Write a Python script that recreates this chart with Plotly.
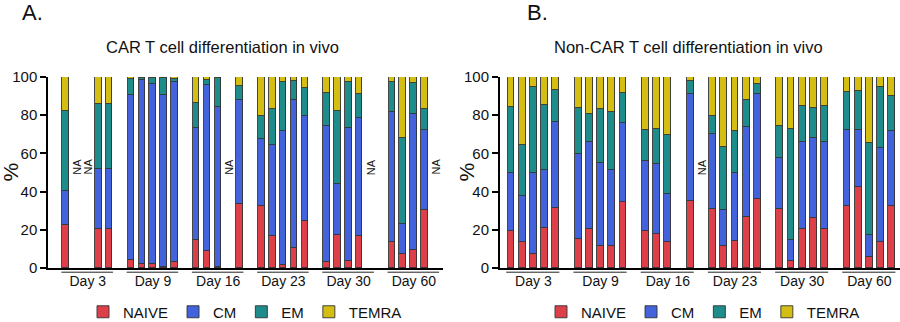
import plotly.graph_objects as go

# Time points and subsets
days = ["Day 3", "Day 9", "Day 16", "Day 23", "Day 30", "Day 60"]
subsets = ["NAIVE", "CM", "EM", "TEMRA"]
colors = {"NAIVE": "#DE404A", "CM": "#4263DB", "EM": "#1E8C8A", "TEMRA": "#D4BE14"}
mice_per_day = 5

# CAR T cells: % of each subset per mouse (5 mice per day, None = NA)
car_naive = [22.7, None, None, 20.4, 20.4,
             4.4, 2.0, 1.9, 0.3, 3.0,
             14.8, 8.7, 0.5, None, 33.7,
             32.3, 16.6, 1.7, 10.5, 24.4,
             3.1, 17.5, 3.7, 16.6, None,
             13.6, 7.5, 9.6, 30.2, None]
car_cm = [17.4, None, None, 31.4, 31.4,
          86.2, 96.4, 94.4, 90.3, 94.4,
          58.5, 87.3, 84.0, None, 54.1,
          35.2, 47.6, 69.9, 77.3, 55.0,
          71.1, 26.5, 69.6, 61.9, None,
          67.9, 15.5, 71.0, 41.9, None]
car_em = [42.3, None, None, 34.1, 34.1,
          8.4, 1.0, 3.0, 9.1, 1.7,
          13.1, 2.3, 15.0, None, 7.7,
          11.9, 19.0, 25.8, 10.3, 14.7,
          17.2, 38.4, 24.1, 12.8, None,
          15.9, 45.1, 16.1, 11.3, None]
car_temra = [17.6, None, None, 14.1, 14.1,
             1.0, 0.6, 0.7, 0.3, 0.9,
             13.6, 1.7, 0.5, None, 4.5,
             20.6, 16.8, 2.6, 1.9, 5.9,
             8.6, 17.6, 2.6, 8.7, None,
             2.6, 31.9, 3.3, 16.6, None]

# Non-CAR T cells
non_naive = [19.2, 13.6, 7.3, 20.9, 31.4,
             15.2, 20.4, 11.5, 11.5, 34.7,
             19.2, 17.8, 13.6, None, 35.1,
             30.9, 11.7, 14.1, 26.5, 36.1,
             30.9, 3.8, 20.4, 26.0, 20.4,
             32.6, 42.6, 5.8, 13.8, 32.6]
non_cm = [30.5, 24.3, 42.4, 30.2, 44.9,
          44.5, 45.6, 43.6, 39.6, 41.0,
          36.6, 36.8, 25.3, None, 56.0,
          39.3, 18.7, 35.6, 47.3, 55.0,
          26.7, 11.0, 45.7, 41.9, 45.7,
          39.8, 29.5, 11.7, 49.0, 39.0]
non_em = [34.6, 26.5, 45.1, 34.1, 17.1,
          24.1, 14.8, 28.1, 30.4, 15.9,
          16.3, 18.2, 30.7, None, 6.8,
          9.6, 33.0, 22.2, 14.3, 5.4,
          16.9, 58.1, 18.9, 15.9, 18.9,
          19.9, 20.7, 47.9, 32.0, 18.6]
non_temra = [15.7, 35.6, 5.2, 14.8, 6.6,
             16.2, 19.2, 16.8, 18.5, 8.4,
             27.9, 27.2, 30.4, None, 2.1,
             20.2, 36.6, 28.1, 11.9, 3.5,
             25.5, 27.1, 15.0, 16.2, 15.0,
             7.7, 7.2, 34.6, 5.2, 9.8]

# NA markers as (day index, slot within day)
car_na = [(0, 1), (0, 2), (2, 3), (4, 4), (5, 4)]
non_na = [(2, 5)]

y_ticks = [0, 20, 40, 60, 80, 100]
font_family = "Liberation Sans, Arial, sans-serif"
ink = "#111111"


def slot(day_idx, mouse_idx):
    # one empty slot separates consecutive days
    return day_idx * (mice_per_day + 1) + mouse_idx


x_slots = [slot(d, m) for d in range(len(days)) for m in range(mice_per_day)]
day_centers = [slot(d, (mice_per_day - 1) / 2) for d in range(len(days))]

panels = [
    dict(xa="x", ya="y", legend="legend",
         data=[car_naive, car_cm, car_em, car_temra], na=car_na,
         xrange=[-1.63, 34.68]),
    dict(xa="x2", ya="y2", legend="legend2",
         data=[non_naive, non_cm, non_em, non_temra], na=non_na,
         xrange=[-0.98, 34.73]),
]

fig = go.Figure()
for p in panels:
    for name, values in zip(subsets, p["data"]):
        xs = [x for x, v in zip(x_slots, values) if v is not None]
        ys = [v for v in values if v is not None]
        fig.add_trace(go.Bar(
            x=xs, y=ys, name=name, xaxis=p["xa"], yaxis=p["ya"],
            legend=p["legend"], width=0.6,
            marker=dict(color=colors[name], line=dict(color="#333333", width=0.9)),
            hoverinfo="skip",
        ))

axis_common = dict(showline=True, linecolor="black", linewidth=2,
                   zeroline=False, showgrid=False, automargin=False)

legend_common = dict(orientation="h", xanchor="center", yref="container",
                     y=10 / 322, yanchor="middle", traceorder="normal",
                     font=dict(size=15, color=ink))

fig.update_layout(
    width=900, height=322,
    margin=dict(l=0, r=0, t=77, b=54, autoexpand=False),
    paper_bgcolor="white", plot_bgcolor="white",
    barmode="stack", bargap=0,
    font=dict(family=font_family, color=ink),
    xaxis=dict(domain=[48.3 / 900, 443 / 900], range=panels[0]["xrange"],
               tickvals=day_centers, ticktext=days, ticks="",
               tickfont=dict(size=14), ticklabelstandoff=-1, **axis_common),
    xaxis2=dict(domain=[500 / 900, 1.0], range=panels[1]["xrange"],
                tickvals=day_centers, ticktext=days, ticks="",
                tickfont=dict(size=14), ticklabelstandoff=-1, anchor="y2", **axis_common),
    yaxis=dict(range=[0, 100], tickvals=y_ticks, ticks="outside", ticklen=6,
               tickwidth=1.5, tickcolor="black", tickfont=dict(size=15),
               anchor="x", **axis_common),
    yaxis2=dict(range=[0, 100], tickvals=y_ticks, ticks="outside", ticklen=6,
                tickwidth=1.5, tickcolor="black", tickfont=dict(size=15),
                anchor="x2", **axis_common),
    legend=dict(x=245 / 900, **legend_common),
    legend2=dict(x=703 / 900, **legend_common),
)

# Underline under each day's group of bars
for p in panels:
    for d in range(len(days)):
        fig.add_shape(type="line", xref=p["xa"], yref=p["ya"] + " domain",
                      x0=slot(d, 0) - 0.42, x1=slot(d, mice_per_day - 1) + 0.32,
                      y0=-0.022, y1=-0.022,
                      line=dict(color="#222222", width=1))
    for d, m in p["na"]:
        fig.add_annotation(x=slot(d, m), y=53, xref=p["xa"], yref=p["ya"],
                           text="NA", textangle=-90, showarrow=False,
                           font=dict(size=11, color=ink))

# Panel titles, letters and y-axis labels
titles = [("CAR T cell differentiation in vivo", 222),
          ("Non-CAR T cell differentiation in vivo", 688)]
for text, xc in titles:
    fig.add_annotation(x=xc / 900, y=1.1586, xref="paper", yref="paper",
                       text=text, showarrow=False, xanchor="center", yanchor="middle",
                       font=dict(size=16.5, color=ink))
for text, xl in [("A.", 20), ("B.", 525)]:
    fig.add_annotation(x=xl / 900, y=1.3366, xref="paper", yref="paper",
                       text=text, showarrow=False, xanchor="left", yanchor="middle",
                       font=dict(size=22, color=ink))
for xc in [10, 466]:
    fig.add_annotation(x=xc / 900, y=0.5, xref="paper", yref="paper",
                       text="%", textangle=-90, showarrow=False,
                       xanchor="center", yanchor="middle",
                       font=dict(size=21, color=ink))

fig.write_html("out.html")
